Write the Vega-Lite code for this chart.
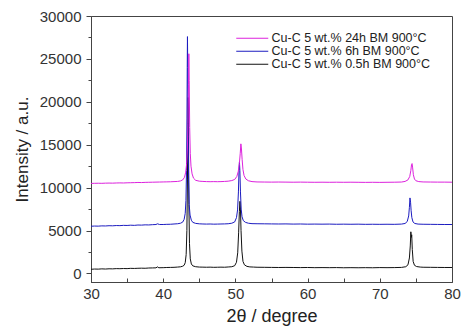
{
  "$schema": "https://vega.github.io/schema/vega-lite/v6.json",
  "width": 361,
  "height": 266,
  "autosize": "none",
  "padding": {"left": 91, "top": 16, "right": 9, "bottom": 54},
  "background": "white",
  "config": {
    "view": {"stroke": "#444", "strokeWidth": 1},
    "font": "Liberation Sans"
  },
  "datasets": {
    "k": [{"x":30,"y":480},{"x":30.5,"y":510},{"x":31,"y":500},{"x":31.5,"y":530},{"x":32,"y":510},{"x":32.5,"y":540},{"x":33,"y":530},{"x":33.5,"y":560},{"x":34,"y":550},{"x":34.5,"y":570},{"x":35,"y":560},{"x":35.5,"y":590},{"x":36,"y":580},{"x":36.5,"y":600},{"x":37,"y":610},{"x":37.5,"y":600},{"x":38,"y":630},{"x":38.5,"y":640},{"x":39,"y":650},{"x":39.2,"y":760},{"x":39.4,"y":660},{"x":40,"y":670},{"x":40.5,"y":690},{"x":41,"y":700},{"x":41.5,"y":710},{"x":42,"y":740},{"x":42.4,"y":770},{"x":42.7,"y":840},{"x":42.9,"y":950},{"x":43.05,"y":1250},{"x":43.18,"y":2200},{"x":43.28,"y":5000},{"x":43.36,"y":11000},{"x":43.42,"y":18000},{"x":43.46,"y":20500},{"x":43.5,"y":16000},{"x":43.56,"y":8000},{"x":43.64,"y":3500},{"x":43.75,"y":1700},{"x":43.9,"y":1100},{"x":44.1,"y":880},{"x":44.5,"y":780},{"x":45,"y":740},{"x":45.5,"y":730},{"x":46,"y":720},{"x":46.5,"y":730},{"x":47,"y":710},{"x":47.5,"y":720},{"x":48,"y":730},{"x":48.5,"y":720},{"x":49,"y":750},{"x":49.5,"y":780},{"x":49.9,"y":900},{"x":50.15,"y":1300},{"x":50.32,"y":2400},{"x":50.45,"y":4800},{"x":50.55,"y":7200},{"x":50.63,"y":8400},{"x":50.7,"y":7500},{"x":50.78,"y":5000},{"x":50.9,"y":2600},{"x":51.05,"y":1400},{"x":51.25,"y":1000},{"x":51.6,"y":820},{"x":52,"y":760},{"x":52.5,"y":740},{"x":53,"y":720},{"x":54,"y":710},{"x":55,"y":700},{"x":56,"y":690},{"x":57,"y":700},{"x":58,"y":690},{"x":59,"y":680},{"x":60,"y":690},{"x":61,"y":670},{"x":62,"y":680},{"x":63,"y":670},{"x":64,"y":680},{"x":65,"y":660},{"x":66,"y":670},{"x":67,"y":660},{"x":68,"y":670},{"x":69,"y":660},{"x":70,"y":680},{"x":71,"y":670},{"x":72,"y":680},{"x":73,"y":700},{"x":73.6,"y":780},{"x":73.9,"y":1000},{"x":74.1,"y":1800},{"x":74.22,"y":3200},{"x":74.3,"y":4850},{"x":74.36,"y":4200},{"x":74.42,"y":4500},{"x":74.5,"y":2800},{"x":74.62,"y":1400},{"x":74.8,"y":950},{"x":75.1,"y":800},{"x":75.6,"y":740},{"x":76,"y":720},{"x":77,"y":710},{"x":78,"y":700},{"x":79,"y":690},{"x":80,"y":690}],
    "b": [{"x":30,"y":5500},{"x":30.5,"y":5520},{"x":31,"y":5510},{"x":31.5,"y":5540},{"x":32,"y":5530},{"x":32.5,"y":5560},{"x":33,"y":5550},{"x":33.5,"y":5580},{"x":34,"y":5570},{"x":34.5,"y":5600},{"x":35,"y":5590},{"x":35.5,"y":5620},{"x":36,"y":5600},{"x":36.5,"y":5640},{"x":37,"y":5630},{"x":37.5,"y":5660},{"x":38,"y":5650},{"x":38.5,"y":5680},{"x":39,"y":5700},{"x":39.2,"y":5780},{"x":39.5,"y":5700},{"x":40,"y":5700},{"x":40.5,"y":5720},{"x":41,"y":5730},{"x":41.5,"y":5760},{"x":42,"y":5790},{"x":42.4,"y":5850},{"x":42.7,"y":5980},{"x":42.9,"y":6300},{"x":43.05,"y":7000},{"x":43.15,"y":8500},{"x":43.23,"y":12000},{"x":43.29,"y":18000},{"x":43.33,"y":24000},{"x":43.36,"y":27600},{"x":43.4,"y":24000},{"x":43.45,"y":17000},{"x":43.52,"y":11000},{"x":43.6,"y":8000},{"x":43.72,"y":6800},{"x":43.9,"y":6200},{"x":44.1,"y":5950},{"x":44.5,"y":5830},{"x":45,"y":5780},{"x":45.5,"y":5760},{"x":46,"y":5750},{"x":46.5,"y":5760},{"x":47,"y":5740},{"x":47.5,"y":5750},{"x":48,"y":5760},{"x":48.5,"y":5770},{"x":49,"y":5790},{"x":49.5,"y":5850},{"x":49.9,"y":6000},{"x":50.15,"y":6500},{"x":50.3,"y":7400},{"x":50.42,"y":9500},{"x":50.5,"y":12000},{"x":50.56,"y":13000},{"x":50.62,"y":12000},{"x":50.7,"y":9500},{"x":50.8,"y":7500},{"x":50.92,"y":6600},{"x":51.1,"y":6150},{"x":51.4,"y":5950},{"x":51.8,"y":5850},{"x":52.3,"y":5800},{"x":53,"y":5790},{"x":54,"y":5780},{"x":55,"y":5770},{"x":56,"y":5760},{"x":57,"y":5770},{"x":58,"y":5750},{"x":59,"y":5760},{"x":60,"y":5740},{"x":61,"y":5750},{"x":62,"y":5740},{"x":63,"y":5750},{"x":64,"y":5730},{"x":65,"y":5740},{"x":66,"y":5730},{"x":67,"y":5740},{"x":68,"y":5720},{"x":69,"y":5730},{"x":70,"y":5720},{"x":71,"y":5730},{"x":72,"y":5720},{"x":73,"y":5750},{"x":73.5,"y":5820},{"x":73.8,"y":6050},{"x":74.0,"y":6700},{"x":74.1,"y":7700},{"x":74.18,"y":8800},{"x":74.26,"y":8300},{"x":74.34,"y":7300},{"x":74.44,"y":6500},{"x":74.6,"y":6000},{"x":74.85,"y":5820},{"x":75.3,"y":5750},{"x":76,"y":5730},{"x":77,"y":5720},{"x":78,"y":5710},{"x":79,"y":5700},{"x":80,"y":5700}],
    "m": [{"x":30,"y":10490},{"x":30.5,"y":10500},{"x":31,"y":10510},{"x":31.5,"y":10500},{"x":32,"y":10520},{"x":32.5,"y":10530},{"x":33,"y":10520},{"x":33.5,"y":10540},{"x":34,"y":10550},{"x":34.5,"y":10540},{"x":35,"y":10560},{"x":35.5,"y":10570},{"x":36,"y":10580},{"x":36.5,"y":10600},{"x":37,"y":10590},{"x":37.5,"y":10610},{"x":38,"y":10620},{"x":38.5,"y":10630},{"x":39,"y":10640},{"x":39.5,"y":10650},{"x":40,"y":10660},{"x":40.5,"y":10670},{"x":41,"y":10680},{"x":41.5,"y":10700},{"x":42,"y":10720},{"x":42.4,"y":10780},{"x":42.7,"y":10900},{"x":42.95,"y":11200},{"x":43.12,"y":11800},{"x":43.25,"y":12800},{"x":43.35,"y":14500},{"x":43.43,"y":17500},{"x":43.5,"y":22000},{"x":43.55,"y":25600},{"x":43.6,"y":22500},{"x":43.67,"y":17000},{"x":43.75,"y":14000},{"x":43.85,"y":12500},{"x":44.0,"y":11600},{"x":44.2,"y":11100},{"x":44.5,"y":10850},{"x":45,"y":10750},{"x":45.5,"y":10720},{"x":46,"y":10700},{"x":46.5,"y":10690},{"x":47,"y":10700},{"x":47.5,"y":10690},{"x":48,"y":10700},{"x":48.5,"y":10720},{"x":49,"y":10750},{"x":49.5,"y":10820},{"x":49.9,"y":10950},{"x":50.2,"y":11300},{"x":50.4,"y":11900},{"x":50.55,"y":12800},{"x":50.67,"y":14000},{"x":50.76,"y":15100},{"x":50.84,"y":14500},{"x":50.93,"y":13300},{"x":51.05,"y":12100},{"x":51.2,"y":11400},{"x":51.45,"y":11000},{"x":51.8,"y":10800},{"x":52.3,"y":10700},{"x":53,"y":10660},{"x":54,"y":10650},{"x":55,"y":10640},{"x":56,"y":10650},{"x":57,"y":10640},{"x":58,"y":10630},{"x":59,"y":10640},{"x":60,"y":10630},{"x":61,"y":10620},{"x":62,"y":10630},{"x":63,"y":10620},{"x":64,"y":10630},{"x":65,"y":10620},{"x":66,"y":10630},{"x":67,"y":10620},{"x":68,"y":10610},{"x":69,"y":10620},{"x":70,"y":10610},{"x":71,"y":10620},{"x":72,"y":10630},{"x":73,"y":10650},{"x":73.5,"y":10720},{"x":73.9,"y":10900},{"x":74.15,"y":11300},{"x":74.3,"y":12000},{"x":74.4,"y":12700},{"x":74.47,"y":12800},{"x":74.55,"y":12300},{"x":74.65,"y":11500},{"x":74.8,"y":11000},{"x":75.0,"y":10800},{"x":75.4,"y":10700},{"x":76,"y":10660},{"x":77,"y":10650},{"x":78,"y":10640},{"x":79,"y":10640},{"x":80,"y":10630}]
  },
  "encoding": {
    "x": {
      "field": "x", "type": "quantitative",
      "scale": {"domain": [30, 80], "nice": false, "zero": false},
      "axis": {
        "title": "2θ / degree",
        "values": [30,35,40,45,50,55,60,65,70,75,80],
        "labelExpr": "datum.value % 10 === 0 ? datum.label : ''",
        "grid": false,
        "tickSize": -4,
        "tickColor": "#444",
        "domainColor": "#444",
        "labelFontSize": 15,
        "labelColor": "#333",
        "labelPadding": 8,
        "labelFont": "Liberation Sans",
        "titleFont": "Liberation Sans",
        "titleFontSize": 18,
        "titleFontWeight": "normal",
        "titleColor": "#222",
        "titlePadding": 6,
        "labelFlush": false
      }
    },
    "y": {
      "field": "y", "type": "quantitative",
      "scale": {"domain": [-1000, 30000], "nice": false, "zero": false},
      "axis": {
        "title": "Intensity / a.u.",
        "values": [0,2500,5000,7500,10000,12500,15000,17500,20000,22500,25000,27500,30000],
        "labelExpr": "datum.value % 5000 === 0 ? datum.label : ''",
        "format": "d",
        "grid": false,
        "tickSize": {"condition": {"test": "datum.value % 5000 === 0", "value": 5}, "value": 3},
        "tickColor": "#444",
        "domainColor": "#444",
        "labelFontSize": 15,
        "labelColor": "#333",
        "labelPadding": 5,
        "labelFont": "Liberation Sans",
        "titleFont": "Liberation Sans",
        "titleFontSize": 17,
        "titleFontWeight": "normal",
        "titleColor": "#222",
        "titlePadding": 8,
        "labelFlush": false
      }
    }
  },
  "layer": [
    {
      "data": {"name": "k"},
      "mark": {"type": "line", "strokeWidth": 1, "interpolate": "linear"},
      "encoding": {
        "color": {
          "datum": "Cu-C 5 wt.% 0.5h BM 900°C",
          "type": "nominal",
          "scale": {"domain": ["Cu-C 5 wt.% 24h BM 900°C", "Cu-C 5 wt.% 6h BM 900°C", "Cu-C 5 wt.% 0.5h BM 900°C"], "range": ["#dd22dd", "#1c1cc0", "#111111"]},
          "legend": {
            "orient": "none", "legendX": 155, "legendY": 16, "title": null,
            "symbolType": "M-3.2,0H3.2", "symbolSize": 100, "symbolStrokeWidth": 1.2,
            "labelFontSize": 12.5, "labelFont": "Liberation Sans", "labelColor": "#222",
            "labelOffset": 13, "rowPadding": 0
          }
        }
      }
    },
    {
      "data": {"name": "b"},
      "mark": {"type": "line", "strokeWidth": 1, "interpolate": "linear"},
      "encoding": {
        "color": {"datum": "Cu-C 5 wt.% 6h BM 900°C", "type": "nominal"}
      }
    },
    {
      "data": {"name": "m"},
      "mark": {"type": "line", "strokeWidth": 1, "interpolate": "linear"},
      "encoding": {
        "color": {"datum": "Cu-C 5 wt.% 24h BM 900°C", "type": "nominal"}
      }
    }
  ]
}
